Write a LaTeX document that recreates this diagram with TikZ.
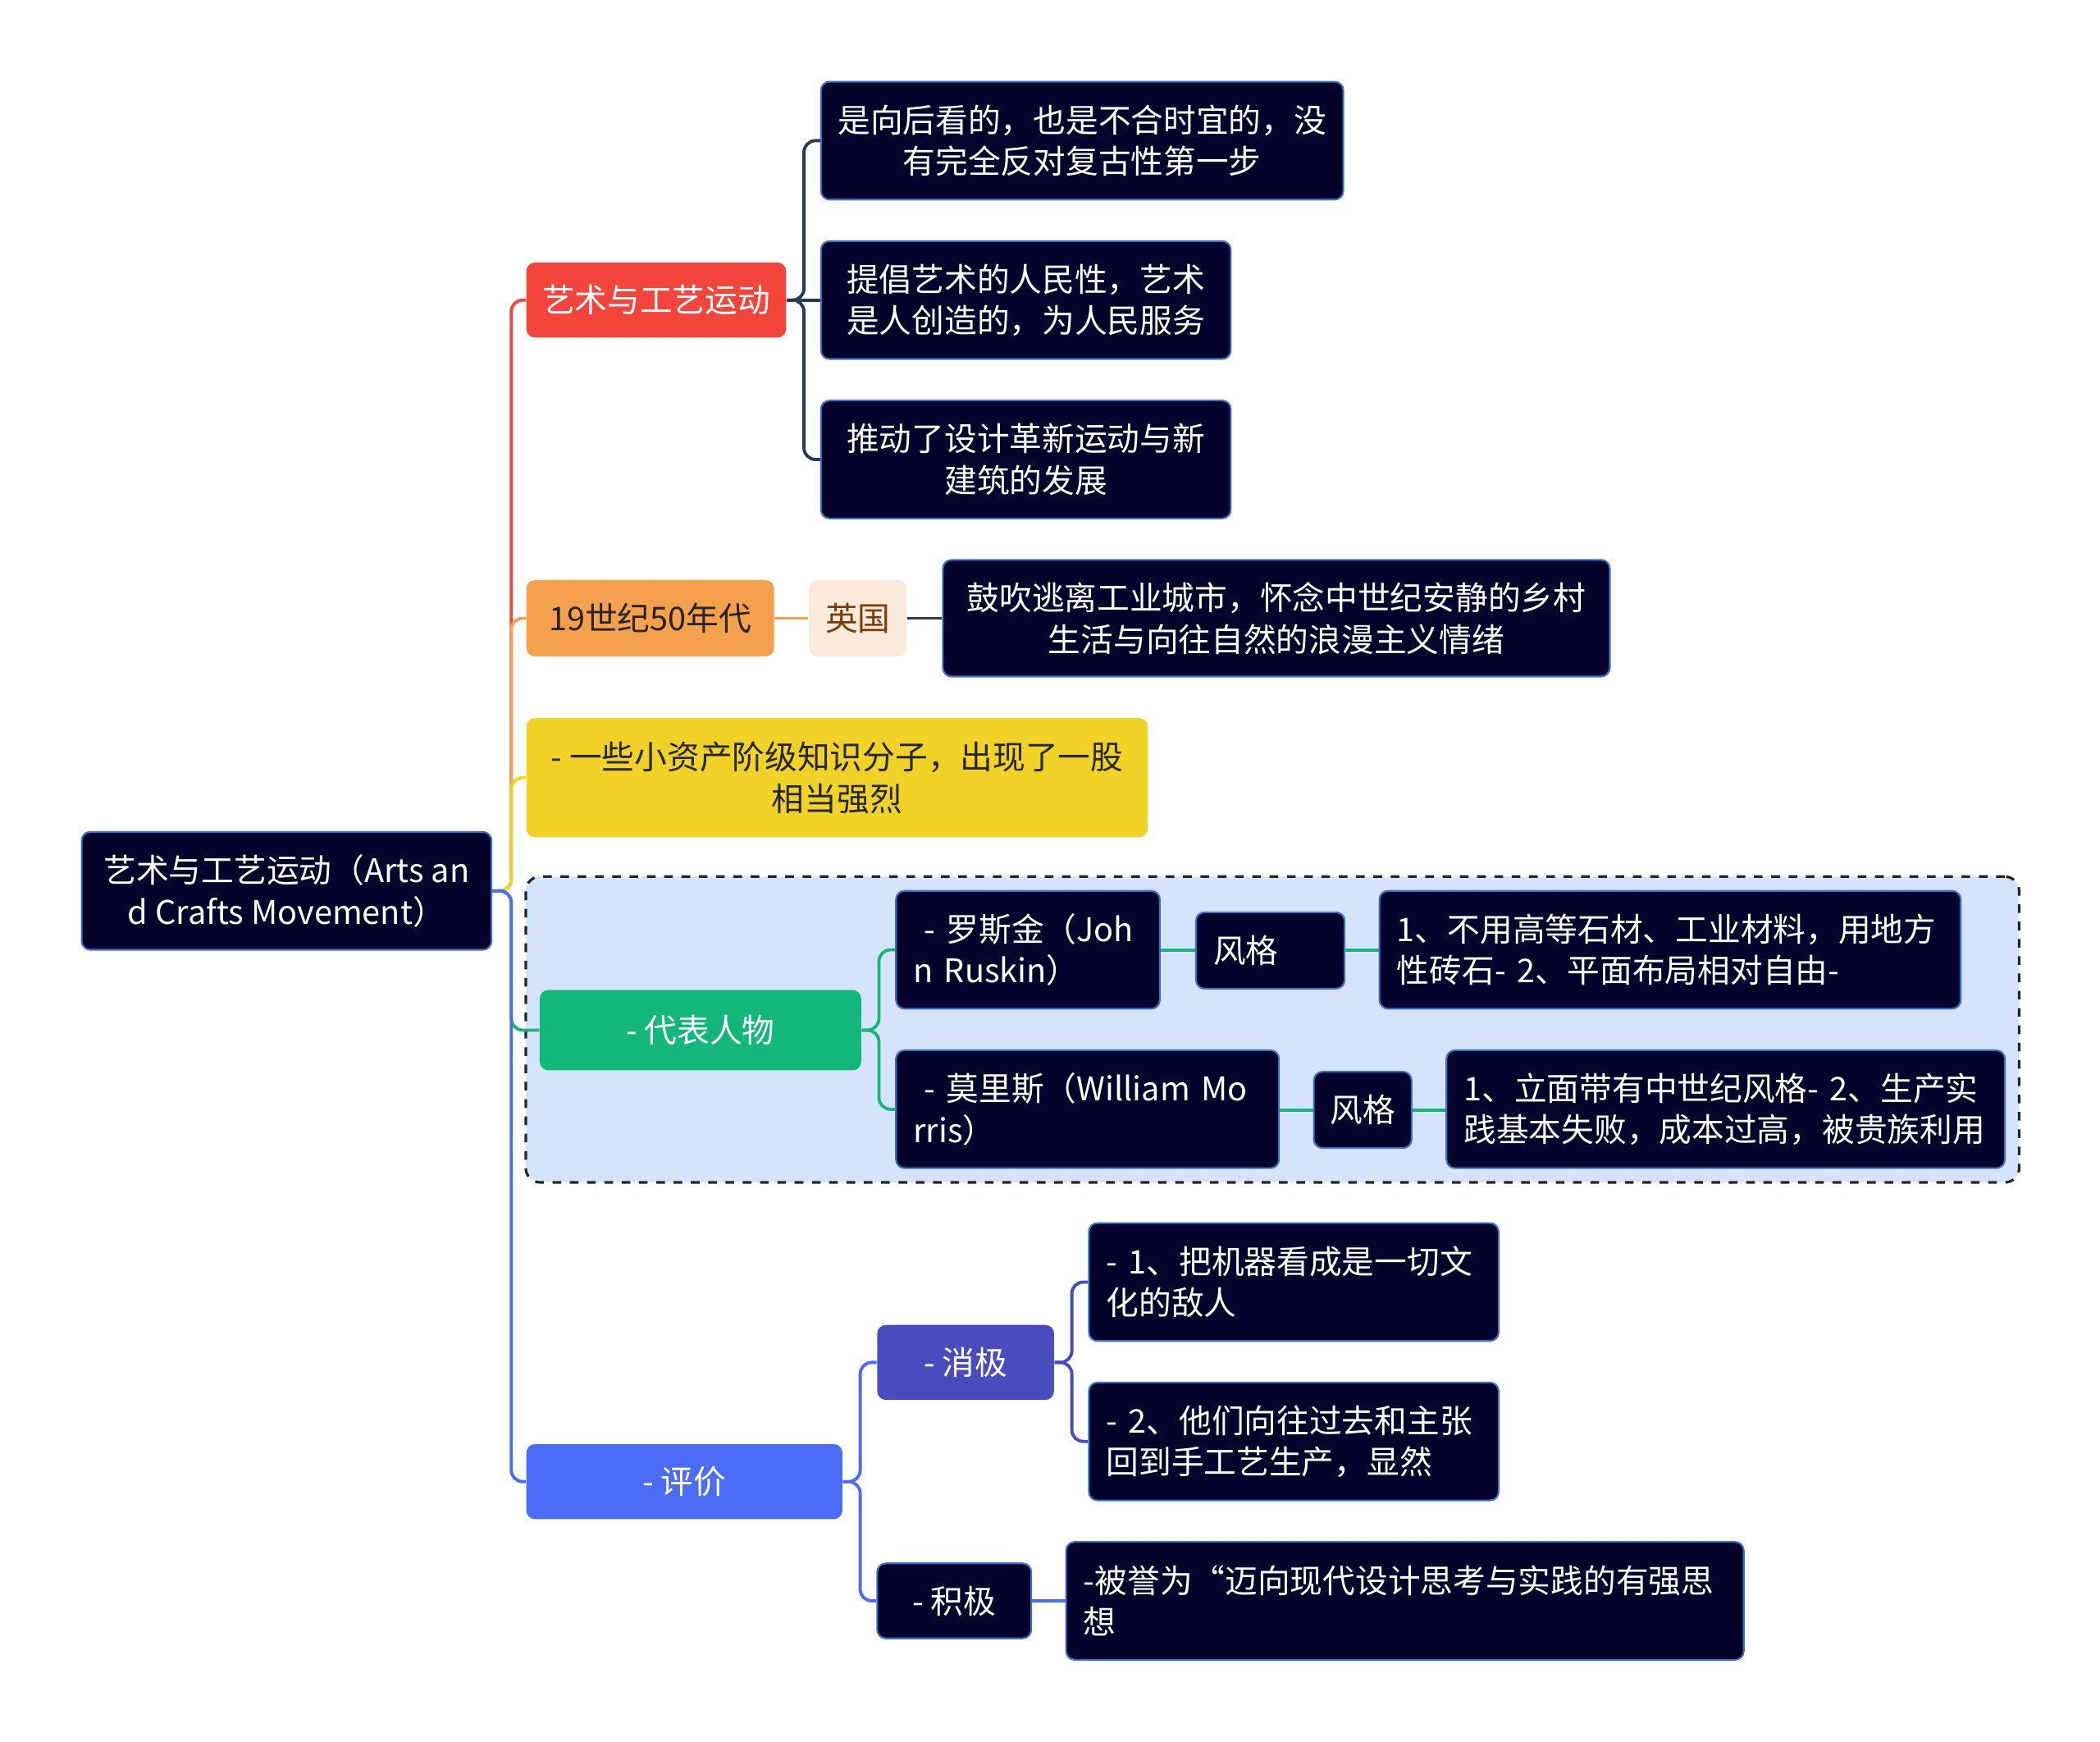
\documentclass[tikz,border=0pt]{standalone}
\usepackage{fontspec}
\setmainfont{Noto Sans CJK SC}
\usepackage{xcolor}
\usetikzlibrary{positioning,calc,fit,backgrounds}
\newdimen\px \px=0.016327cm
\definecolor{navy}{HTML}{03032B}
\definecolor{navyedge}{HTML}{3E6FC4}
\definecolor{slate}{HTML}{2D3B4E}
\definecolor{cred}{HTML}{F4453C}
\definecolor{corange}{HTML}{F5A04C}
\definecolor{cyellow}{HTML}{F0D326}
\definecolor{cgreen}{HTML}{13B77C}
\definecolor{cblue}{HTML}{4A6CF7}
\definecolor{cpurple}{HTML}{4B4BC0}
\definecolor{peach}{HTML}{FDEADB}
\definecolor{brown}{HTML}{7A3D0A}
\definecolor{groupbg}{HTML}{D6E4FB}
\tikzset{
  box/.style={rectangle, rounded corners=3pt, align=center, inner sep=2pt,
    font=\fontsize{11.3}{14.4}\selectfont},
  dk/.style={box, fill=navy, draw=navyedge, line width=0.6pt, text=white},
  wh/.style 2 args={minimum width=#1\px, minimum height=#2\px},
  lft/.style={align=left, inner xsep=13\px, text width=#1\px},
  lnk/.style={line width=1.1pt, rounded corners=4pt},
  grp/.style={draw=black!85, dashed, line width=0.9pt, fill=groupbg, rounded corners=5pt}
}
\begin{document}
\begin{tikzpicture}[x=\px, y=-\px]
\useasboundingbox (0,0) rectangle (1568,1300);
% root
\node[dk, wh={306}{88}] (root) at (214,665) {艺术与工艺运动（Arts an\\d Crafts Movement）};
% first level
\node[box, fill=cred, text=white, wh={194}{56}] (mov) at (490,224) {艺术与工艺运动};
\node[box, fill=corange, text=black!85, wh={185}{57}] (era) at (485.5,461.5) {19世纪50年代};
\node[box, fill=cyellow, text=black!85, wh={464}{89}] (cls) at (625,580.5) {- 一些小资产阶级知识分子，出现了一股\\相当强烈};
\node[box, fill=cgreen, text=white, wh={240}{60}] (ppl) at (523,769) {- 代表人物};
\node[box, fill=cblue, text=white, wh={236}{56}] (eval) at (511,1106) {- 评价};
% movement
\node[dk, wh={390}{88}] (mov1) at (808,105) {是向后看的，也是不合时宜的，没\\有完全反对复古性第一步};
\node[dk, wh={306}{88}] (mov2) at (766,224) {提倡艺术的人民性，艺术\\是人创造的，为人民服务};
\node[dk, wh={306}{88}] (mov3) at (766,343) {推动了设计革新运动与新\\建筑的发展};
% era
\node[box, fill=peach, text=brown, wh={73}{57}] (uk) at (640.5,461.5) {英国};
\node[dk, wh={498}{87}] (ukt) at (953,461.5) {鼓吹逃离工业城市，怀念中世纪安静的乡村\\生活与向往自然的浪漫主义情绪};
% people
\node[dk, lft=171, wh={197}{88}] (rus) at (767.5,709) {~-~罗斯金（Joh\\n~Ruskin）};
\node[dk, lft=85, wh={111}{57}] (rusS) at (948.5,709.5) {风格};
\node[dk, lft=408, wh={434}{88}] (rusT) at (1247,709) {1、不用高等石材、工业材料，用地方\\性砖石-~2、平面布局相对自由-};
\node[dk, lft=260, wh={286}{88}] (mor) at (812,828) {~-~莫里斯（William~Mo\\rris）};
\node[dk, wh={73}{57}] (morS) at (1017.5,828.5) {风格};
\node[dk, lft=391, wh={417}{88}] (morT) at (1288.5,828) {1、立面带有中世纪风格-~2、生产实\\践基本失败，成本过高，被贵族利用};
\begin{scope}[on background layer]
  \node[grp, inner sep=10\px, fit=(ppl)(rus)(rusT)(morT)] (grp) {};
\end{scope}
% evaluation
\node[box, fill=cpurple, text=white, wh={132}{56}] (neg) at (721,1017) {- 消极};
\node[dk, lft=280, wh={306}{88}] (neg1) at (966,957) {-~1、把机器看成是一切文\\化的敌人};
\node[dk, lft=280, wh={306}{88}] (neg2) at (966,1076) {-~2、他们向往过去和主张\\回到手工艺生产，显然};
\node[dk, wh={115}{56}] (pos) at (712.5,1195) {- 积极};
\node[dk, lft=480, wh={506}{88}] (pos1) at (1049,1195) {-被誉为“迈向现代设计思考与实践的有强思\\想};
% connectors from root
\draw[lnk, cred] (root.east) -- ++(0.23cm,0) |- (mov.west);
\draw[lnk, corange] (root.east) -- ++(0.23cm,0) |- (era.west);
\draw[lnk, cyellow] (root.east) -- ++(0.23cm,0) |- (cls.west);
\draw[lnk, cgreen] (root.east) -- ++(0.23cm,0) |- (ppl.west);
\draw[lnk, cblue] (root.east) -- ++(0.23cm,0) |- (eval.west);
% movement
\draw[lnk, slate] (mov.east) -- ++(0.21cm,0) |- (mov1.west);
\draw[lnk, slate] (mov.east) -- (mov2.west);
\draw[lnk, slate] (mov.east) -- ++(0.21cm,0) |- (mov3.west);
% era
\draw[lnk, corange] (era) -- (uk);
\draw[lnk, slate] (uk) -- (ukt);
% people
\draw[lnk, cgreen] (ppl.east) -- ++(0.21cm,0) |- (rus.west);
\draw[lnk, cgreen] (ppl.east) -- ++(0.21cm,0) |- (mor.west);
\draw[lnk, cgreen] (rus.east |- rusS) -- (rusS.west);
\draw[lnk, cgreen] (rusS) -- (rusT.west |- rusS);
\draw[lnk, cgreen] (mor.east |- morS) -- (morS.west);
\draw[lnk, cgreen] (morS) -- (morT.west |- morS);
% evaluation
\draw[lnk, cblue] (eval.east) -- ++(0.21cm,0) |- (neg.west);
\draw[lnk, cblue] (eval.east) -- ++(0.21cm,0) |- (pos.west);
\draw[lnk, cpurple] (neg.east) -- ++(0.21cm,0) |- (neg1.west);
\draw[lnk, cpurple] (neg.east) -- ++(0.21cm,0) |- (neg2.west);
\draw[lnk, cblue] (pos) -- (pos1);
\end{tikzpicture}
\end{document}
